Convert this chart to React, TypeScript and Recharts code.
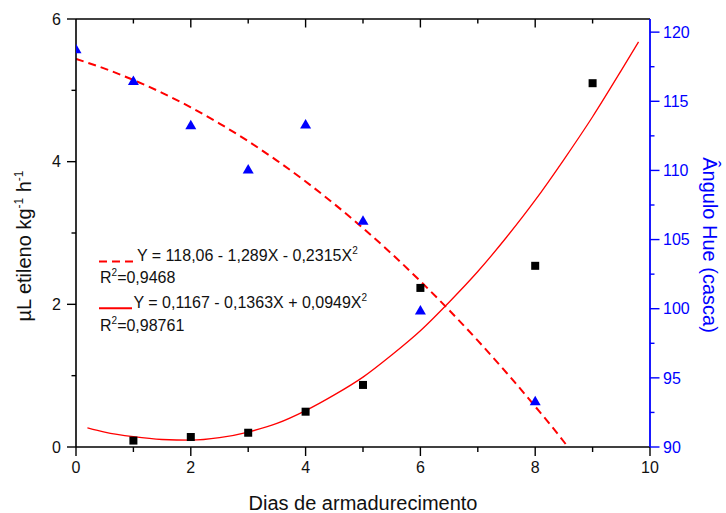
import React from 'react';
import { ComposedChart, XAxis, YAxis, Scatter, Line } from 'recharts';

// ---- data ----
const xTicks = [0, 1, 2, 3, 4, 5, 6, 7, 8, 9, 10];
const leftTicks = [0, 1, 2, 3, 4, 5, 6];
const rightTicks = [90, 92.5, 95, 97.5, 100, 102.5, 105, 107.5, 110, 112.5, 115, 117.5, 120];

const etilenoDays = [1, 2, 3, 4, 5, 6, 8, 9];
const etilenoValues = [0.09, 0.14, 0.2, 0.495, 0.87, 2.23, 2.54, 5.1];

const hueDays = [0, 1, 2, 3, 4, 5, 6, 8];
const hueValues = [118.8, 116.5, 113.3, 110.1, 113.35, 106.4, 99.9, 93.35];

const hueFitDays = [0, 0.5, 1, 1.5, 2, 2.5, 3, 3.5, 4, 4.5, 5, 5.5, 6, 6.5, 7, 7.5, 8, 8.5, 8.57];
const hueFitValues = [118.06, 117.36, 116.54, 115.61, 114.56, 113.39, 112.11, 110.71, 109.2, 107.57, 105.83, 103.97, 101.99, 99.9, 97.69, 95.37, 92.93, 90.38, 90.0];

const etilenoFitDays = [0.2, 0.5, 1, 1.5, 2, 2.5, 3, 3.5, 4, 4.5, 5, 5.5, 6, 6.5, 7, 7.5, 8, 8.5, 9, 9.5, 9.8];
const etilenoFitValues = [0.27, 0.21, 0.145, 0.105, 0.095, 0.13, 0.21, 0.33, 0.51, 0.73, 0.98, 1.29, 1.63, 2.03, 2.46, 2.94, 3.46, 4.03, 4.63, 5.28, 5.68];

const etilenoData = etilenoDays.map((x, i) => ({ x, y: etilenoValues[i] }));
const hueData = hueDays.map((x, i) => ({ x, y: hueValues[i] }));
const hueFitData = hueFitDays.map((x, i) => ({ x, y: hueFitValues[i] }));
const etilenoFitData = etilenoFitDays.map((x, i) => ({ x, y: etilenoFitValues[i] }));

const FONT = '"Liberation Sans", Arial, sans-serif';
const BLUE = '#0000FF';
const RED = '#FF0000';
const TXT = '#111';

const SquareShape = (props: any) => {
  const { cx, cy } = props;
  if (cx == null || cy == null) return null;
  return <rect x={cx - 4} y={cy - 4} width={8} height={8} fill="#000" />;
};

const TriangleShape = (props: any) => {
  const { cx, cy } = props;
  if (cx == null || cy == null) return null;
  return <polygon points={`${cx - 5.5},${cy + 4.5} ${cx + 5.5},${cy + 4.5} ${cx},${cy - 5}`} fill={BLUE} />;
};

const BottomTick = (props: any) => {
  const { x, y, payload } = props;
  const v = payload.value;
  const major = v % 2 === 0;
  return (
    <g>
      <line x1={x} x2={x} y1={y} y2={y + (major ? 9 : 5)} stroke="#000" strokeWidth={1.4} />
      {major && (
        <text x={x} y={y + 26} textAnchor="middle" fontSize={16} fill={TXT} fontFamily={FONT}>
          {v}
        </text>
      )}
    </g>
  );
};

const TopTick = (props: any) => {
  const { x, y, payload } = props;
  const v = payload.value;
  if (v === 0 || v === 10) return null;
  const major = v % 2 === 0;
  return <line x1={x} x2={x} y1={y} y2={y + (major ? 8.5 : 4.5)} stroke="#000" strokeWidth={1.4} />;
};

const LeftTick = (props: any) => {
  const { x, y, payload } = props;
  const v = payload.value;
  const major = v % 2 === 0;
  return (
    <g>
      <line x1={x - (major ? 9 : 4.5)} x2={x} y1={y} y2={y} stroke="#000" strokeWidth={1.4} />
      {major && (
        <text x={x - 15} y={y + 5.7} textAnchor="end" fontSize={16} fill={TXT} fontFamily={FONT}>
          {v}
        </text>
      )}
    </g>
  );
};

const RightTick = (props: any) => {
  const { x, y, payload } = props;
  const v = payload.value;
  const major = v % 5 === 0;
  return (
    <g>
      <line x1={x} x2={x + (major ? 9.5 : 4.5)} y1={y} y2={y} stroke={BLUE} strokeWidth={1.4} />
      {major && (
        <text x={x + 13} y={y + 5.7} textAnchor="start" fontSize={16} fill={BLUE} fontFamily={FONT}>
          {v}
        </text>
      )}
    </g>
  );
};

const Overlay = () => (
  <svg
    width={726}
    height={513}
    style={{ position: 'absolute', left: 0, top: 0, pointerEvents: 'none' }}
    fontFamily={FONT}
  >
    {/* x title */}
    <text x={363} y={510} textAnchor="middle" fontSize={20} fill={TXT}>
      Dias de armadurecimento
    </text>
    {/* left title */}
    <text transform="translate(31,246) rotate(-90)" textAnchor="middle" fontSize={20} fill={TXT}>
      <tspan>µL etileno kg</tspan>
      <tspan fontSize={12} dy={-8}>-1</tspan>
      <tspan dy={8}> h</tspan>
      <tspan fontSize={12} dy={-8}>-1</tspan>
    </text>
    {/* right title */}
    <text transform="translate(703,245) rotate(90)" textAnchor="middle" fontSize={20} fill={BLUE}>
      Ângulo Hue (casca)
    </text>
    {/* legend */}
    <line x1={99} x2={135} y1={261.5} y2={261.5} stroke={RED} strokeWidth={2} strokeDasharray="8 5" />
    <text x={137} y={260.7} fontSize={16} fill={TXT}>
      <tspan>Y = 118,06 - 1,289X - 0,2315X</tspan>
      <tspan fontSize={10} dy={-7}>2</tspan>
    </text>
    <text x={100} y={283.3} fontSize={16} fill={TXT}>
      <tspan>R</tspan>
      <tspan fontSize={10} dy={-7}>2</tspan>
      <tspan dy={7}>=0,9468</tspan>
    </text>
    <line x1={99} x2={132} y1={308.3} y2={308.3} stroke={RED} strokeWidth={2} />
    <text x={133.5} y={308.3} fontSize={16} fill={TXT}>
      <tspan>Y = 0,1167 - 0,1363X + 0,0949X</tspan>
      <tspan fontSize={10} dy={-7}>2</tspan>
    </text>
    <text x={100} y={331} fontSize={16} fill={TXT}>
      <tspan>R</tspan>
      <tspan fontSize={10} dy={-7}>2</tspan>
      <tspan dy={7}>=0,98761</tspan>
    </text>
  </svg>
);

export default function App() {
  return (
    <div style={{ position: 'absolute', left: 0, top: 0, width: 726, height: 513, background: '#fff' }}>
      <ComposedChart width={726} height={513} margin={{ top: 0, right: 0, bottom: 0, left: 0 }}>
        <XAxis
          dataKey="x"
          type="number"
          domain={[0, 10]}
          ticks={xTicks}
          interval={0}
          allowDataOverflow
          height={66}
          tickSize={0}
          tickMargin={0}
          tickLine={false}
          axisLine={{ stroke: '#000', strokeWidth: 1.6 }}
          tick={<BottomTick />}
        />
        <XAxis
          xAxisId="top"
          orientation="top"
          dataKey="x"
          type="number"
          domain={[0, 10]}
          ticks={xTicks}
          interval={0}
          allowDataOverflow
          height={19}
          tickSize={0}
          tickMargin={0}
          tickLine={false}
          axisLine={{ stroke: '#000', strokeWidth: 1.6 }}
          tick={<TopTick />}
        />
        <YAxis
          yAxisId="left"
          type="number"
          domain={[0, 6]}
          ticks={leftTicks}
          interval={0}
          allowDataOverflow
          width={76}
          tickSize={0}
          tickMargin={0}
          tickLine={false}
          axisLine={{ stroke: '#000', strokeWidth: 1.6 }}
          tick={<LeftTick />}
        />
        <YAxis
          yAxisId="right"
          orientation="right"
          type="number"
          domain={[90, 120.95]}
          ticks={rightTicks}
          interval={0}
          allowDataOverflow
          width={76}
          tickSize={0}
          tickMargin={0}
          tickLine={false}
          axisLine={{ stroke: BLUE, strokeWidth: 1.8 }}
          tick={<RightTick />}
        />
        <Line
          data={hueFitData}
          dataKey="y"
          yAxisId="right"
          type="monotone"
          stroke={RED}
          strokeWidth={2}
          strokeDasharray="8 5"
          dot={false}
          activeDot={false}
          isAnimationActive={false}
        />
        <Line
          data={etilenoFitData}
          dataKey="y"
          yAxisId="left"
          type="monotone"
          stroke={RED}
          strokeWidth={1.3}
          dot={false}
          activeDot={false}
          isAnimationActive={false}
        />
        <Scatter data={etilenoData} dataKey="y" yAxisId="left" shape={SquareShape} isAnimationActive={false} />
        <Scatter data={hueData} dataKey="y" yAxisId="right" shape={TriangleShape} isAnimationActive={false} />
      </ComposedChart>
      <Overlay />
    </div>
  );
}
